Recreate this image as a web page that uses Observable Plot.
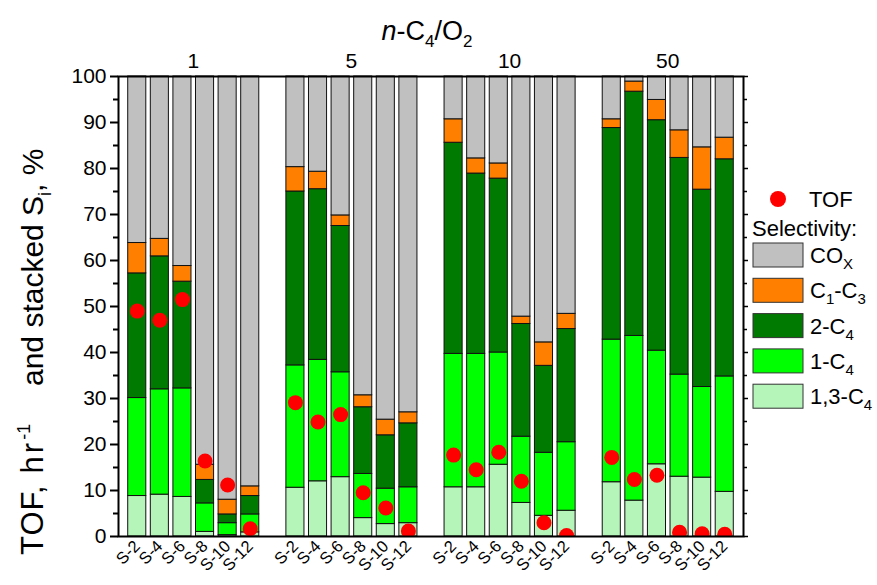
<!DOCTYPE html>
<html><head><meta charset="utf-8">
<script src="https://cdn.jsdelivr.net/npm/d3@7"></script>
<script src="https://cdn.jsdelivr.net/npm/@observablehq/plot@0.6"></script>
<style>body{margin:0;background:#fff;} svg{font-family:"Liberation Sans",Arial,sans-serif;}</style>
</head><body><div id="chart"></div>
<script>
// n-C4/O2 ratio groups and catalyst samples
const ratios = ["1","5","10","50"];
const samples = ["S-2","S-4","S-6","S-8","S-10","S-12"];
// stacked selectivity components, bottom to top
const components = ["1,3-C4","1-C4","2-C4","C1-C3","COx"];
const colors = ["#b5f5b9","#00ff00","#007a00","#ff8000","#c0c0c0"];
// values, in order ratio 1 (S-2..S-12), 5, 10, 50
const s13C4 = [8.8,9.1,8.6,1.0,0.3,0.9, 10.6,12.0,12.9,4.0,2.7,2.9, 10.7,10.7,15.6,7.3,4.5,5.6, 11.8,7.8,15.7,13.0,12.8,9.7];
const s1C4  = [21.3,22.9,23.6,6.2,2.6,3.9, 26.6,26.4,22.8,9.6,7.7,7.8, 29.0,29.0,24.4,14.4,13.7,14.9, 31.0,35.8,24.7,22.2,19.7,25.1];
const s2C4  = [27.1,28.9,23.2,5.1,1.9,4.0, 37.8,37.1,31.8,14.5,11.6,13.9, 45.9,39.2,37.8,24.5,18.9,24.6, 46.0,53.1,50.1,47.1,42.9,47.2];
const sC1C3 = [6.6,3.8,3.4,3.3,3.2,2.1, 5.3,3.8,2.3,2.6,3.4,2.4, 5.1,3.3,3.3,1.6,5.1,3.3, 1.9,2.2,4.4,6.0,9.2,4.7];
const sCOx  = [36.2,35.3,41.2,84.4,92.0,89.1, 19.7,20.7,30.2,69.3,74.6,73.0, 9.3,17.8,18.9,52.2,57.8,51.6, 9.3,1.1,5.1,11.7,15.4,13.3];
const tof   = [49.0,47.0,51.5,16.4,11.2,1.7, 29.1,24.9,26.5,9.5,6.2,1.2, 17.7,14.5,18.3,12.0,3.0,0.2, 17.2,12.4,13.3,0.9,0.6,0.5];
const yTicks = [0,10,20,30,40,50,60,70,80,90,100];
const yMinor = [5,15,25,35,45,55,65,75,85,95];

const series = [s13C4, s1C4, s2C4, sC1C3, sCOx];
const keys = [];
ratios.forEach((r, i) => {
  if (i > 0) keys.push("gap" + i);
  samples.forEach(s => keys.push(r + "|" + s));
});
const barRows = [];
const dotRows = [];
ratios.forEach((r, i) => samples.forEach((s, j) => {
  const k = r + "|" + s, idx = i * samples.length + j;
  components.forEach((c, ci) => barRows.push({key: k, component: c, value: series[ci][idx]}));
  dotRows.push({key: k, tof: tof[idx]});
}));
const fmt = d => d.startsWith("gap") ? "" : d.split("|")[1];

const plot = Plot.plot({
  width: 877, height: 585,
  marginLeft: 118, marginRight: 134, marginTop: 76, marginBottom: 49,
  style: {fontFamily: "Liberation Sans, Arial, sans-serif", fontSize: "21px", color: "black", background: "white"},
  x: {domain: keys, paddingInner: 0.2, paddingOuter: 0.43, round: false},
  y: {domain: [0, 100]},
  color: {domain: components, range: colors},
  marks: [
    Plot.barY(barRows, {x: "key", y: "value", fill: "component", stroke: "#111", strokeWidth: 1}),
    Plot.dot(dotRows, {x: "key", y: "tof", r: 7.5, fill: "#ff0000", clip: true}),
    Plot.frame({stroke: "black", strokeWidth: 2}),
    Plot.axisY({ticks: yTicks, tickSize: 8, tickPadding: 4, fontSize: 21, strokeWidth: 2, label: null}),
    Plot.axisY({ticks: yMinor, tickSize: 5, tickFormat: () => "", strokeWidth: 2, label: null}),
    Plot.axisY({anchor: "right", ticks: yTicks, tickSize: 4, tickFormat: () => "", strokeWidth: 1.5, label: null}),
    Plot.axisY({anchor: "right", ticks: yMinor, tickSize: 3, tickFormat: () => "", strokeWidth: 1.5, label: null}),
    Plot.axisX({ticks: keys.filter(k => !k.startsWith("gap")), tickRotate: -45, tickSize: 0, tickPadding: 7, fontSize: 16.5, tickFormat: fmt, label: null})
  ]
});
document.getElementById("chart").appendChild(plot);

const svg = d3.select(plot);
const xs = plot.scale("x");
const bw = xs.bandwidth;
// group labels on top
ratios.forEach(r => {
  const a = xs.apply(r + "|" + samples[0]);
  const b = xs.apply(r + "|" + samples[samples.length - 1]) + bw;
  svg.append("text").attr("x", (a + b) / 2).attr("y", 68).attr("text-anchor", "middle")
    .attr("font-size", 21).text(r);
});
// title
const t = svg.append("text").attr("x", 427).attr("y", 40).attr("text-anchor", "middle").attr("font-size", 27);
t.append("tspan").attr("font-style", "italic").text("n");
t.append("tspan").text("-C");
t.append("tspan").attr("font-size", 17).attr("dy", 7).text("4");
t.append("tspan").attr("dy", -7).text("/O");
t.append("tspan").attr("font-size", 17).attr("dy", 7).text("2");
// y label (pieces, rotated)
const yl1 = svg.append("text").attr("transform", "translate(43,555) rotate(-90)").attr("text-anchor", "start").attr("font-size", 31);
yl1.append("tspan").attr("letter-spacing", 1).text("TOF,");
yl1.append("tspan").attr("dx", 11).attr("letter-spacing", 3).text("hr");
yl1.append("tspan").attr("font-size", 18).attr("dy", -13).text("-1");
const yl2 = svg.append("text").attr("transform", "translate(43,386) rotate(-90)").attr("text-anchor", "start").attr("font-size", 30);
yl2.append("tspan").text("and stacked S");
yl2.append("tspan").attr("font-size", 18).attr("dy", 8).text("i");
yl2.append("tspan").attr("dy", -8).text(", %");
// legend
svg.append("circle").attr("cx", 778).attr("cy", 199).attr("r", 8).attr("fill", "#ff0000");
svg.append("text").attr("x", 809).attr("y", 207).attr("text-anchor", "start").attr("font-size", 22).text("TOF");
svg.append("text").attr("x", 752).attr("y", 236).attr("text-anchor", "start").attr("font-size", 22).text("Selectivity:");
const legendItems = [
  {c: "COx", parts: [["CO", 0], ["X", 1]]},
  {c: "C1-C3", parts: [["C", 0], ["1", 1], ["-C", 0], ["3", 1]]},
  {c: "2-C4", parts: [["2-C", 0], ["4", 1]]},
  {c: "1-C4", parts: [["1-C", 0], ["4", 1]]},
  {c: "1,3-C4", parts: [["1,3-C", 0], ["4", 1]]}
];
legendItems.forEach((it, i) => {
  const y0 = 243 + i * 35.3;
  svg.append("rect").attr("x", 753).attr("y", y0).attr("width", 50).attr("height", 24)
    .attr("fill", colors[components.indexOf(it.c)]).attr("stroke", "#333").attr("stroke-width", 1);
  const tx = svg.append("text").attr("x", 810).attr("y", y0 + 20).attr("text-anchor", "start").attr("font-size", 22);
  let sub = 0;
  it.parts.forEach(([s, isSub]) => {
    const dy = isSub && !sub ? 6 : (!isSub && sub ? -6 : 0);
    tx.append("tspan").attr("font-size", isSub ? 15 : 22).attr("dy", dy).text(s);
    sub = isSub;
  });
});
</script></body></html>
